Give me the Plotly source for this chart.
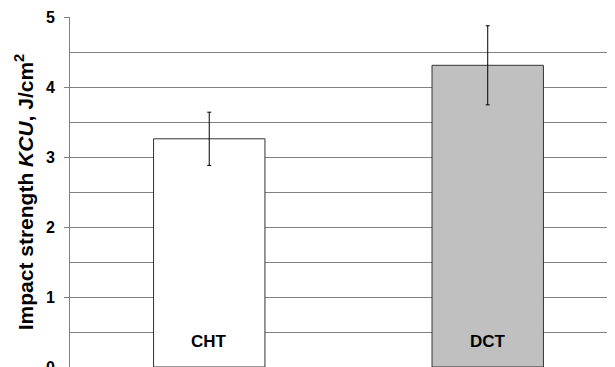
import plotly.graph_objects as go

categories = ["CHT", "DCT"]
values = [3.26, 4.31]
errors = [0.38, 0.565]
colors = ["#ffffff", "#c0c0c0"]
y_ticks = [0, 1, 2, 3, 4, 5]

FONT = "Arial, Liberation Sans, sans-serif"

fig = go.Figure()
fig.add_trace(go.Bar(
    x=categories, y=values,
    width=0.4,
    marker=dict(color=colors, line=dict(color="#333333", width=1)),
    error_y=dict(type="data", array=errors, visible=True, color="#000000", thickness=1, width=2),
    showlegend=False,
))

for c in categories:
    fig.add_annotation(x=c, y=0.36, text="<b>%s</b>" % c, showarrow=False,
                       font=dict(family=FONT, size=17, color="#000000"))

# page body has an 8px default margin, so the figure is offset by 8px
fig.update_layout(
    width=607, height=359,
    margin=dict(l=62, r=0, t=9, b=0),
    plot_bgcolor="#ffffff", paper_bgcolor="#ffffff",
    font=dict(family=FONT, color="#000000"),
)
fig.update_xaxes(
    range=[-0.5, 1.457], showticklabels=False, ticks="", automargin=False,
    showline=True, linecolor="#808080", linewidth=1, showgrid=False, zeroline=False,
)
fig.update_yaxes(
    range=[0, 5], tickvals=y_ticks, ticktext=["<b>%d</b>" % v for v in y_ticks],
    automargin=False, ticklabeloverflow="allow", ticklabelstandoff=6,
    ticks="outside", ticklen=5, tickcolor="#808080",
    tickfont=dict(family=FONT, size=16, color="#000000"),
    showline=True, linecolor="#808080", linewidth=1,
    showgrid=True, gridcolor="#808080", gridwidth=1, zeroline=False,
    minor=dict(dtick=0.5, showgrid=True, gridcolor="#808080", gridwidth=1, ticks=""),
    title=dict(text="<b>Impact strength <i>KCU</i>, J/cm<sup>2</sup></b>",
               font=dict(family=FONT, size=21, color="#000000"), standoff=6),
)

fig.write_html("out.html")
